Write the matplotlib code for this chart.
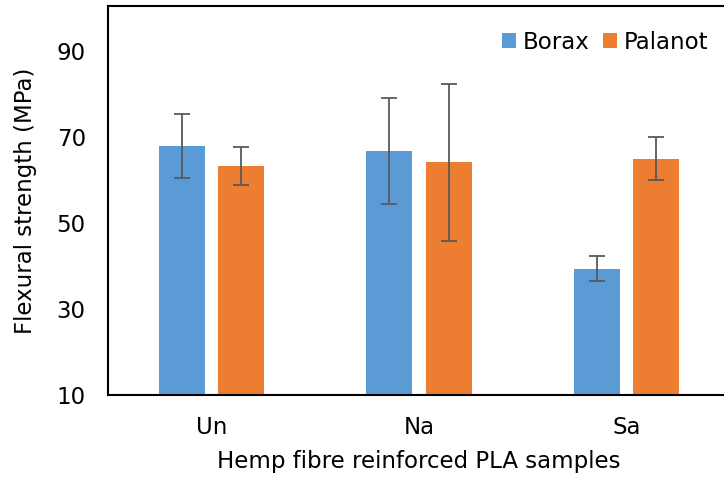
import matplotlib.pyplot as plt
import numpy as np

# Data
samples = ['Un', 'Na', 'Sa']
borax = [67.9, 66.8, 39.4]
borax_err = [7.5, 12.3, 2.95]
palanot = [63.2, 64.1, 65.0]
palanot_err = [4.4, 18.2, 5.05]

blue = '#5B9BD5'
orange = '#ED7D31'
errc = '#595959'

plt.rcParams['font.family'] = 'DejaVu Sans'
fs = 16.5

fig = plt.figure(figsize=(7.24, 4.79), dpi=100)
ax = fig.add_axes([108 / 724, 84 / 479, 622 / 724, 389 / 479])

x = np.arange(len(samples))
w = 0.222
off = 0.143
ekw = dict(ecolor=errc, elinewidth=1.3, capsize=5.5, capthick=1.3)
ax.bar(x - off, borax, w, yerr=borax_err, color=blue, label='Borax', error_kw=ekw)
ax.bar(x + off, palanot, w, yerr=palanot_err, color=orange, label='Palanot', error_kw=ekw)

ax.set_xlim(-0.5, 2.5)
ax.set_ylim(10, 100.5)
ax.set_yticks([10, 30, 50, 70, 90])
ax.set_xticks(x)
ax.set_xticklabels(samples)
ax.tick_params(axis='y', length=0, labelsize=fs, pad=16)
ax.tick_params(axis='x', length=0, labelsize=fs, pad=15)
for s in ax.spines.values():
    s.set_linewidth(1.5)
    s.set_color('black')

ax.set_xlabel('Hemp fibre reinforced PLA samples', fontsize=fs, labelpad=8)
ax.set_ylabel('Flexural strength (MPa)', fontsize=fs, labelpad=14)

ax.legend(loc='upper left', bbox_to_anchor=(0.6, 0.99), ncol=2, frameon=False,
          fontsize=fs, handlelength=0.6, handleheight=0.6, handletextpad=0.3,
          columnspacing=0.6)

fig.savefig('out.png', dpi=100)
